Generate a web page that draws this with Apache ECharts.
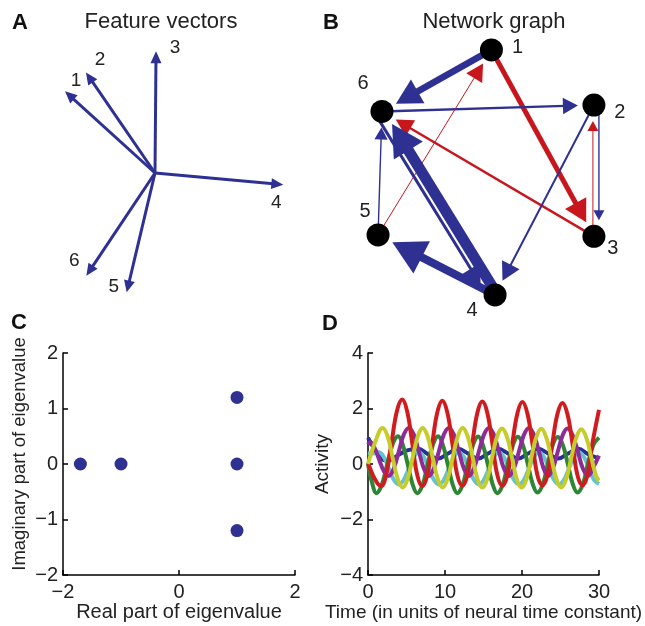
<!DOCTYPE html>
<html><head><meta charset="utf-8">
<script src="https://cdn.jsdelivr.net/npm/echarts@6/dist/echarts.min.js"></script>
<style>html,body{margin:0;padding:0;background:#fff}#c{width:645px;height:626px}</style>
</head><body><div id="c"></div>
<script>
// ---------- Panel A: feature vectors ----------
const featureNames = ['1','2','3','4','5','6'];
const featureX = [-0.692, -0.531, 0.008, 0.987, -0.218, -0.528];
const featureY = [0.628, 0.774, 0.936, -0.090, -0.918, -0.790];

// ---------- Panel B: network graph ----------
const nodeNames = ['1','2','3','4','5','6'];
const nodeX = [5.23, 8.89, 8.89, 5.36, 1.18, 1.32];
const nodeY = [9.29, 7.32, 2.63, 0.54, 2.68, 7.09];
const edgeFrom   = [1, 1, 6, 3, 5, 2, 5, 4, 6, 4, 3, 2];
const edgeTo     = [6, 3, 2, 6, 1, 4, 6, 6, 4, 5, 2, 3];
const edgeWeight = [3.4, -2.5, 1.2, -1.2, -0.5, 1, 0.7, 5.5, 1.5, 4, -0.5, 0.7];

// ---------- Panel C: eigenvalues ----------
const eigReal = [-1.7, -1, 1, 1, 1];
const eigImag = [0, 0, 1.2, 0, -1.2];

// ---------- Panel D: activity ----------
const actBlue = [[0,0.95],[0.65,0.62],[1.3,0.35],[1.95,0.15],[2.6,0.12],[3.25,0.2],[3.9,0.32],[4.55,0.42],[5.2,0.5],[6.5,0.55],[7.8,0.35],[9.1,0.2],[10.4,0.38],[11.7,0.55],[13.0,0.38],[14.3,0.2],[15.6,0.38],[16.9,0.55],[18.2,0.38],[19.5,0.2],[20.8,0.38],[22.1,0.55],[23.4,0.38],[24.7,0.2],[26.0,0.38],[27.3,0.55],[28.6,0.35],[30,0.2]];
const actCyan = [[0,0.4],[0.7,0.38],[1.4,0.42],[2.05,0.25],[2.7,-0.16],[3.35,-0.57],[4.0,-0.74],[4.65,-0.57],[5.3,-0.16],[5.95,0.25],[6.6,0.42],[7.25,0.25],[7.9,-0.16],[8.55,-0.57],[9.2,-0.74],[9.85,-0.57],[10.5,-0.16],[11.15,0.25],[11.8,0.42],[12.45,0.25],[13.1,-0.16],[13.75,-0.57],[14.4,-0.74],[15.05,-0.57],[15.7,-0.16],[16.35,0.25],[17.0,0.42],[17.65,0.25],[18.3,-0.16],[18.95,-0.57],[19.6,-0.74],[20.25,-0.57],[20.9,-0.16],[21.55,0.25],[22.2,0.42],[22.85,0.25],[23.5,-0.16],[24.15,-0.57],[24.8,-0.74],[25.45,-0.57],[26.1,-0.16],[26.75,0.25],[27.4,0.42],[28.05,0.25],[28.7,-0.16],[29.35,-0.57],[30,-0.72]];
const actGreen = [[0,0],[0.5,-0.65],[1.1,-1.05],[1.8,-0.74],[2.5,0],[3.2,0.71],[3.9,1.0],[4.5,0.71],[5.15,0],[5.8,-0.74],[6.4,-1.05],[7.1,-0.74],[7.75,0],[8.45,0.71],[9.1,1.0],[9.7,0.71],[10.35,0],[11.0,-0.74],[11.6,-1.05],[12.3,-0.74],[12.95,0],[13.65,0.7],[14.3,0.99],[14.9,0.7],[15.55,0],[16.2,-0.74],[16.8,-1.05],[17.5,-0.74],[18.15,0],[18.85,0.7],[19.45,0.98],[20.1,0.7],[20.75,0],[21.4,-0.73],[22.0,-1.03],[22.7,-0.73],[23.35,0],[24.0,0.69],[24.65,0.97],[25.3,0.69],[25.95,0],[26.6,-0.73],[27.2,-1.03],[27.9,-0.73],[28.55,0],[29.25,0.68],[30,0.95]];
const actPurple = [[0,0.7],[0.3,0.78],[0.9,0.55],[1.5,0.12],[2.1,-0.28],[2.7,-0.43],[3.35,-0.16],[4.0,0.45],[4.65,1.06],[5.3,1.3],[5.95,1.06],[6.6,0.45],[7.25,-0.16],[7.9,-0.43],[8.55,-0.16],[9.2,0.45],[9.85,1.06],[10.5,1.3],[11.15,1.06],[11.8,0.45],[12.45,-0.16],[13.1,-0.43],[13.75,-0.16],[14.4,0.45],[15.05,1.05],[15.7,1.3],[16.35,1.05],[17.0,0.45],[17.65,-0.16],[18.3,-0.43],[18.95,-0.16],[19.6,0.45],[20.25,1.05],[20.9,1.3],[21.55,1.05],[22.2,0.45],[22.8,-0.16],[23.4,-0.43],[24.0,-0.16],[24.65,0.45],[25.3,1.05],[25.9,1.28],[26.55,1.05],[27.25,0.45],[27.9,-0.16],[28.6,-0.42],[29.3,-0.1],[30,0.3]];
const actRed = [[0,0.05],[0.9,-0.55],[1.7,-0.8],[2.35,-0.4],[3.05,0.75],[3.75,1.9],[4.45,2.32],[5.1,1.88],[5.75,0.75],[6.4,-0.4],[7.05,-0.8],[7.7,-0.4],[8.35,0.75],[9.0,1.86],[9.65,2.28],[10.3,1.86],[10.95,0.75],[11.6,-0.4],[12.25,-0.78],[12.9,-0.4],[13.55,0.75],[14.2,1.84],[14.85,2.25],[15.5,1.84],[16.15,0.75],[16.8,-0.4],[17.45,-0.78],[18.1,-0.4],[18.75,0.75],[19.4,1.82],[20.05,2.23],[20.7,1.82],[21.35,0.75],[22.0,-0.4],[22.65,-0.77],[23.3,-0.4],[23.95,0.75],[24.6,1.8],[25.25,2.2],[25.9,1.8],[26.55,0.75],[27.2,-0.4],[27.85,-0.77],[28.5,-0.4],[29.15,0.75],[30,1.95]];
const actYellow = [[0,0],[0.95,0.8],[1.9,1.3],[2.55,1.0],[3.2,0.23],[3.85,-0.53],[4.5,-0.85],[5.15,-0.53],[5.8,0.23],[6.45,0.99],[7.1,1.3],[7.75,0.99],[8.4,0.23],[9.05,-0.53],[9.7,-0.85],[10.35,-0.53],[11.0,0.23],[11.65,0.99],[12.3,1.3],[12.95,0.99],[13.6,0.23],[14.2,-0.53],[14.85,-0.85],[15.5,-0.53],[16.1,0.23],[16.75,0.98],[17.4,1.28],[18.05,0.98],[18.7,0.23],[19.3,-0.53],[19.95,-0.85],[20.6,-0.53],[21.2,0.23],[21.85,0.96],[22.5,1.27],[23.15,0.96],[23.8,0.23],[24.45,-0.53],[25.1,-0.85],[25.75,-0.53],[26.4,0.23],[27.05,0.95],[27.7,1.25],[28.35,0.95],[29.0,0.23],[29.65,-0.45],[30,-0.6]];

// ---------- styles ----------
const FONT = '"Liberation Sans", Arial, Helvetica, sans-serif';
const BLUE = '#2e3192';
const RED = '#c8161d';
const TXT = '#222';
const featureLabelOffset = [[11,-11],[14,-13],[19,-4],[-7,18],[-13,-6],[-12,-15]];
const nodeLabelOffset = [[26,-2],[26,7],[19,12],[-23,16],[-13,-23],[-19,-28]];
const edgeHeadLen = [25, 22, 15, 17, 17, 18, 12, 31, 19, 33, 10, 10];
const edgeShift   = [0, 0, 0, 0, 0, 0, 0, 2, 7, 0, -1, -5];
const edgeGap = 16;

function arrow(p0, p1, lw, hl, hw, color) {
  const dx = p1[0]-p0[0], dy = p1[1]-p0[1], L = Math.hypot(dx, dy);
  const ux = dx/L, uy = dy/L, px = -uy, py = ux;
  const bx = p1[0]-ux*hl, by = p1[1]-uy*hl;
  return [
    {type:'line', shape:{x1:p0[0], y1:p0[1], x2:bx+ux*2, y2:by+uy*2}, style:{stroke:color, lineWidth:lw}},
    {type:'polygon', shape:{points:[[p1[0],p1[1]],[bx+px*hw/2, by+py*hw/2],[bx-px*hw/2, by-py*hw/2]]}, style:{fill:color}}
  ];
}

function renderFeature(params, api) {
  const i = params.dataIndex;
  const p0 = api.coord([0, 0]);
  const p1 = api.coord([api.value(0), api.value(1)]);
  const ch = arrow(p0, p1, 3, 12, 11, BLUE);
  ch.push({type:'text', x:p1[0]+featureLabelOffset[i][0], y:p1[1]+featureLabelOffset[i][1],
    style:{text:featureNames[i], font:'19px '+FONT, fill:TXT, textAlign:'center', textVerticalAlign:'middle'}});
  return {type:'group', children:ch};
}

function renderEdge(params, api) {
  const i = params.dataIndex;
  const a = api.coord([api.value(0), api.value(1)]);
  const b = api.coord([api.value(2), api.value(3)]);
  const w = api.value(4);
  const dx = b[0]-a[0], dy = b[1]-a[1], L = Math.hypot(dx, dy);
  const ux = dx/L, uy = dy/L, px = -uy, py = ux, s = edgeShift[i];
  const p0 = [a[0]+px*s, a[1]+py*s];
  const p1 = [b[0]+px*s-ux*edgeGap, b[1]+py*s-uy*edgeGap];
  const hl = edgeHeadLen[i];
  return {type:'group', children: arrow(p0, p1, Math.abs(w)*2, hl, hl*1.1, w < 0 ? RED : BLUE)};
}

const minusFmt = v => String(v).replace('-', '\u2212');

function hiddenAxis(gi, min, max) {
  return {gridIndex:gi, type:'value', min:min, max:max, show:false, splitLine:{show:false}};
}
function plotAxis(gi, min, max, interval, name, gap, isX, nameSize, namePad) {
  return {
    gridIndex:gi, type:'value', min:min, max:max, interval:interval,
    name:name, nameLocation:'middle', nameGap:gap,
    nameTextStyle:{fontSize:nameSize, color:TXT, fontFamily:FONT, padding:namePad},
    axisLine:{show:true, onZero:false, lineStyle:{color:'#000', width:1.5}},
    axisTick:{show:true, inside:true, length:5, lineStyle:{color:'#000', width:1.5}},
    axisLabel:{fontSize:20, color:TXT, fontFamily:FONT, margin:isX ? 7 : 5, formatter:minusFmt},
    splitLine:{show:false}
  };
}

const chart = echarts.init(document.getElementById('c'), null, {renderer:'canvas'});

const edgeData = edgeFrom.map((f, i) => [nodeX[f-1], nodeY[f-1], nodeX[edgeTo[i]-1], nodeY[edgeTo[i]-1], edgeWeight[i]]);
const nodeData = nodeNames.map((n, i) => ({value:[nodeX[i], nodeY[i]], label:{offset:nodeLabelOffset[i]}}));
const lineStyleD = c => ({width:4, color:c});

chart.setOption({
  animation:false,
  backgroundColor:'#fff',
  textStyle:{fontFamily:FONT},
  grid:[
    {left:25, top:43, width:260, height:260},
    {left:345, top:30, width:280, height:280},
    {left:63, top:353, width:232, height:222},
    {left:368, top:353, width:231, height:222}
  ],
  xAxis:[
    hiddenAxis(0, -1, 1),
    hiddenAxis(1, 0, 10),
    plotAxis(2, -2, 2, 2, 'Real part of eigenvalue', 27, true, 20, 0),
    plotAxis(3, 0, 30, 10, 'Time (in units of neural time constant)', 25, true, 19, 0)
  ],
  yAxis:[
    hiddenAxis(0, -1, 1),
    hiddenAxis(1, 0, 10),
    plotAxis(2, -2, 2, 1, 'Imaginary part of eigenvalue', 34, false, 18.5, [0,0,0,20]),
    plotAxis(3, -4, 4, 2, 'Activity', 36, false, 19, 0)
  ],
  graphic:[
    {type:'text', x:20, y:23, style:{text:'A', font:'bold 22px '+FONT, fill:'#111', textAlign:'center', textVerticalAlign:'middle'}},
    {type:'text', x:331, y:23, style:{text:'B', font:'bold 22px '+FONT, fill:'#111', textAlign:'center', textVerticalAlign:'middle'}},
    {type:'text', x:19, y:323, style:{text:'C', font:'bold 22px '+FONT, fill:'#111', textAlign:'center', textVerticalAlign:'middle'}},
    {type:'text', x:330, y:324, style:{text:'D', font:'bold 22px '+FONT, fill:'#111', textAlign:'center', textVerticalAlign:'middle'}},
    {type:'text', x:161, y:22, style:{text:'Feature vectors', font:'22px '+FONT, fill:TXT, textAlign:'center', textVerticalAlign:'middle'}},
    {type:'text', x:494, y:22, style:{text:'Network graph', font:'22px '+FONT, fill:TXT, textAlign:'center', textVerticalAlign:'middle'}}
  ],
  series:[
    {type:'custom', xAxisIndex:0, yAxisIndex:0, renderItem:renderFeature,
     data: featureX.map((x, i) => [x, featureY[i]]), encode:{x:0, y:1}},
    {type:'custom', xAxisIndex:1, yAxisIndex:1, renderItem:renderEdge,
     data: edgeData, encode:{x:[0,2], y:[1,3]}, z:2},
    {type:'scatter', xAxisIndex:1, yAxisIndex:1, symbolSize:23, itemStyle:{color:'#000', opacity:1}, z:5,
     data: nodeData,
     label:{show:true, position:'inside', color:TXT, fontSize:20, fontFamily:FONT, formatter: p => nodeNames[p.dataIndex]}},
    {type:'scatter', xAxisIndex:2, yAxisIndex:2, symbolSize:13, itemStyle:{color:BLUE, opacity:1},
     data: eigReal.map((x, i) => [x, eigImag[i]])},
    {type:'line', xAxisIndex:3, yAxisIndex:3, data:actBlue, smooth:0.4, showSymbol:false, lineStyle:lineStyleD('#2a2e96')},
    {type:'line', xAxisIndex:3, yAxisIndex:3, data:actCyan, smooth:0.4, showSymbol:false, lineStyle:lineStyleD('#66c2cc')},
    {type:'line', xAxisIndex:3, yAxisIndex:3, data:actGreen, smooth:0.4, showSymbol:false, lineStyle:lineStyleD('#2e8536')},
    {type:'line', xAxisIndex:3, yAxisIndex:3, data:actPurple, smooth:0.4, showSymbol:false, lineStyle:lineStyleD('#8f2b98')},
    {type:'line', xAxisIndex:3, yAxisIndex:3, data:actRed, smooth:0.4, showSymbol:false, lineStyle:lineStyleD('#d01c1f')},
    {type:'line', xAxisIndex:3, yAxisIndex:3, data:actYellow, smooth:0.4, showSymbol:false, lineStyle:lineStyleD('#c6cc2a')}
  ]
});
</script></body></html>
